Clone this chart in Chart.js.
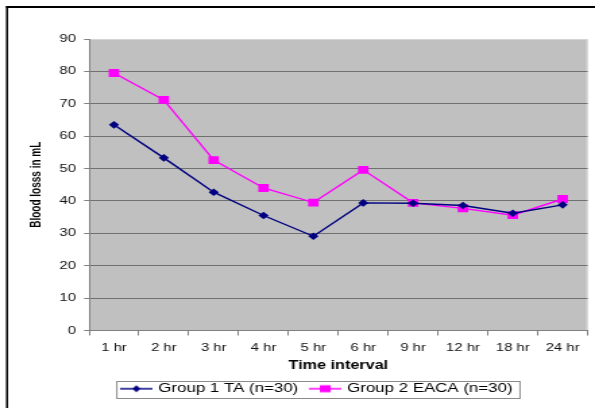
<!DOCTYPE html>
<html>
<head>
<meta charset="utf-8">
<script src="https://cdn.jsdelivr.net/npm/chart.js@4/dist/chart.umd.min.js"></script>
<style>
  html, body { margin: 0; padding: 0; background: #fff; }
  /* the source picture is stretched sideways, so the canvas is drawn narrow and widened */
  #bloodChart { display: block; width: 595px; height: 408px; }
</style>
</head>
<body>
<canvas id="bloodChart" width="441" height="408" style="width:595px;height:408px"></canvas>
<script>
const timeLabels = ["1 hr", "2 hr", "3 hr", "4 hr", "5 hr", "6 hr", "9 hr", "12 hr", "18 hr", "24 hr"];
const groupTA = [63.5, 53.3, 42.7, 35.5, 29.1, 39.4, 39.3, 38.6, 36.2, 38.8];
const groupEACA = [79.5, 71.2, 52.6, 44.0, 39.5, 49.6, 39.4, 37.7, 35.6, 40.6];
const yTicks = [0, 10, 20, 30, 40, 50, 60, 70, 80, 90];

const navy = "#000080";
const pink = "#ff00ff";
const font = "Liberation Sans, Arial, sans-serif";

// little line + marker pictures for the legend
function legendMark(color, style) {
    const c = document.createElement("canvas");
    c.width = 24; c.height = 10;
    const g = c.getContext("2d");
    g.strokeStyle = color;
    g.lineWidth = 1.5;
    g.beginPath(); g.moveTo(0, 5); g.lineTo(24, 5); g.stroke();
    g.fillStyle = color;
    if (style == "diamond") {
        g.beginPath(); g.moveTo(12, 1.5); g.lineTo(15, 5); g.lineTo(12, 8.5); g.lineTo(9, 5); g.closePath(); g.fill();
    } else {
        g.fillRect(8, 1.5, 8, 7);
    }
    return c;
}

const legendShift = 17;

const frame = {
    id: "frame",
    afterLayout(chart) {
        const lg = chart.legend;
        lg.left += legendShift;
        lg.right += legendShift;
        (lg.legendHitBoxes || []).forEach(h => { h.left += legendShift; });
    },
    beforeDraw(chart) {
        const ctx = chart.ctx;
        const a = chart.chartArea;
        ctx.save();
        ctx.strokeStyle = "#000";
        ctx.lineWidth = 2;
        ctx.beginPath(); ctx.moveTo(4.5, 7); ctx.lineTo(460, 7); ctx.stroke();
        ctx.lineWidth = 1.5;
        ctx.beginPath(); ctx.moveTo(5.2, 6); ctx.lineTo(5.2, 420); ctx.stroke();
        ctx.fillStyle = "#c0c0c0";
        ctx.fillRect(a.left, a.top, a.right - a.left, a.bottom - a.top);
        ctx.strokeStyle = "#d4d4d4";
        ctx.lineWidth = 1;
        ctx.beginPath();
        ctx.moveTo(a.left, a.top + 0.5); ctx.lineTo(a.right - 0.5, a.top + 0.5); ctx.lineTo(a.right - 0.5, a.bottom);
        ctx.stroke();
        ctx.restore();
    },
    afterDraw(chart) {
        const boxes = chart.legend.legendHitBoxes;
        if (!boxes || !boxes.length) return;
        let l = Infinity, r = -Infinity, t = Infinity, b = -Infinity;
        boxes.forEach(h => {
            l = Math.min(l, h.left); r = Math.max(r, h.left + h.width);
            t = Math.min(t, h.top); b = Math.max(b, h.top + h.height);
        });
        const ctx = chart.ctx;
        ctx.save();
        ctx.strokeStyle = "#8a8a8a";
        ctx.lineWidth = 1;
        ctx.strokeRect(l - 4.5, Math.round(t - 2) + 0.5, r - l + 10, Math.round(b - t + 4));
        ctx.restore();
    }
};

new Chart("bloodChart", {
    type: "line",
    data: {
        labels: timeLabels,
        datasets: [{
            label: "Group 1 TA (n=30)",
            data: groupTA,
            borderColor: navy,
            backgroundColor: navy,
            borderWidth: 1.4,
            pointStyle: "rectRot",
            pointRadius: 3.8,
            pointBorderWidth: 0,
            tension: 0
        }, {
            label: "Group 2 EACA (n=30)",
            data: groupEACA,
            borderColor: pink,
            backgroundColor: pink,
            borderWidth: 1.4,
            pointStyle: "rect",
            pointRadius: 5.5,
            pointBorderWidth: 0,
            tension: 0
        }]
    },
    options: {
        responsive: false,
        animation: false,
        devicePixelRatio: 1,
        layout: { padding: { top: 39, right: 4, left: 0, bottom: 3 } },
        plugins: {
            tooltip: { enabled: false },
            legend: {
                position: "bottom",
                labels: {
                    usePointStyle: true,
                    pointStyleWidth: 20,
                    color: "#000",
                    padding: 10,
                    font: { family: font, size: 12.5 },
                    generateLabels(chart) {
                        return chart.data.datasets.map((d, i) => ({
                            text: d.label,
                            pointStyle: legendMark(d.borderColor, i == 0 ? "diamond" : "square"),
                            fillStyle: d.borderColor,
                            strokeStyle: d.borderColor,
                            lineWidth: 0,
                            hidden: false,
                            datasetIndex: i,
                            fontColor: "#000"
                        }));
                    }
                }
            }
        },
        scales: {
            x: {
                offset: true,
                afterFit(scale) { scale.height = 42; },
                grid: { offset: true, drawOnChartArea: false, drawTicks: true, tickLength: 5, color: "#808080" },
                border: { color: "#808080", width: 1 },
                ticks: { color: "#111", padding: 6, maxRotation: 0, autoSkip: false, font: { family: font, size: 11 } },
                title: { display: true, text: "Time interval", color: "#000", padding: { top: 0, bottom: 0 }, font: { family: font, size: 12, weight: "bold" } }
            },
            y: {
                min: 0,
                max: 90,
                afterFit(scale) { scale.width = 66; },
                afterBuildTicks(scale) { scale.ticks = yTicks.map(v => ({ value: v })); },
                grid: {
                    color: ctx => ctx.tick && ctx.tick.value == 90 ? "rgba(0,0,0,0)" : "#707070",
                    tickColor: "#808080",
                    tickLength: 3.7,
                    drawTicks: true
                },
                border: { color: "#808080", width: 1 },
                ticks: { color: "#111", padding: 6, font: { family: font, size: 11 } },
                title: { display: true, text: "Blood losss in mL", color: "#000", padding: { top: 21.4, bottom: 0 }, font: { family: font, size: 10, weight: "bold" } }
            }
        }
    },
    plugins: [frame]
});
</script>
</body>
</html>
